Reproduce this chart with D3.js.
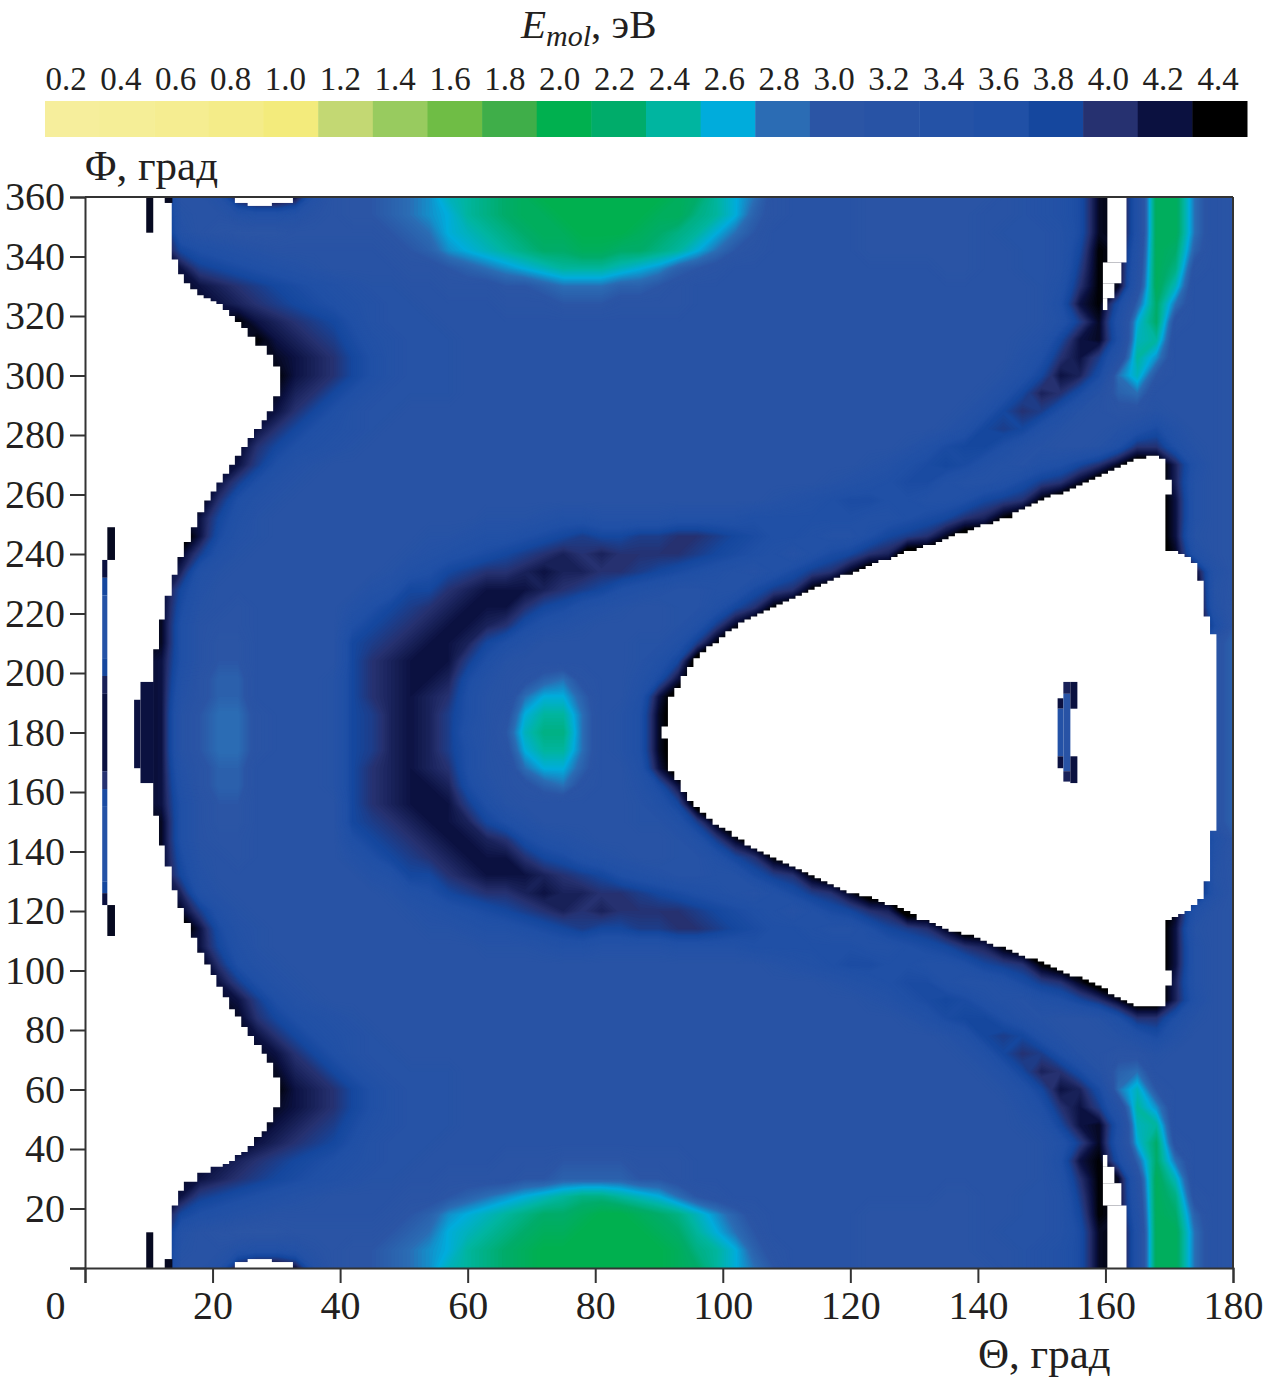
<!DOCTYPE html>
<html><head><meta charset="utf-8">
<script src="https://cdn.jsdelivr.net/npm/d3@7"></script>
<style>html,body{margin:0;padding:0;background:#fff}svg{display:block}text{font-family:"Liberation Serif",serif;fill:#231f20}</style>
</head><body><div id="c"></div>
<script>
const legendValues=[0.2,0.4,0.6,0.8,1.0,1.2,1.4,1.6,1.8,2.0,2.2,2.4,2.6,2.8,3.0,3.2,3.4,3.6,3.8,4.0,4.2,4.4];
const legendColors=["#f6ee9c","#f5ee97","#f5ed91","#f4ec89","#f3eb7c","#c3d873","#98cb5f","#6fbd45","#3fae49","#00b04f","#00ac6a","#00b5a0","#00acdc","#2b6cb4","#2b55a5","#2853a5","#2452a6","#2050a6","#15479e","#263170","#0b1140","#000000"];
const thetaTicks=[0,20,40,60,80,100,120,140,160,180];
const phiTicks=[0,20,40,60,80,100,120,140,160,180,200,220,240,260,280,300,320,340,360];
const thetaStep=3, phiStep=6;
// Emol per cell: A=1.8 ... Z=4.3 in 0.1 eV steps, #=4.4, %=4.6. Rows from Phi=360 to Phi=0, columns from Theta=0 to 180.
const energyRows=[
"ZZZZZ OOQY# #YQNM MLKJH GFEDC CCCCC CDEGI KNOOO ONNNN NNNOP QRTZ# RDDKO N",
"ZZZZZ POOQR RQONM MLKJI GFEDD CCCCC DDFGI LNOOO ONNNN NNOOP QRTZ# RDDKO N",
"ZZZZZ QONMM MNNNN NMLKI HGFED DCCCD EFGIK MOOOO ONNNN NNOPP PQTZ# RDDKO N",
"ZZZZZ USRQP OOOOO ONMLJ IHGFE EDDEE FGIKM NOOOO ONNNN NNOOP PQU#Z QDELO N",
"ZZZZZ YVUTS RQPOO OONNM LKJIH GGGHI JLMNO OOOOO OOOOO NNOOP PQV#Z PDFNO N",
"ZZZZZ ZYXWV UTSRQ PPOON NNMML KKKLL MNOOO OOOOO OOOOO OOOOO PRW#Z ODHOO N",
"ZZZZZ ZZYXW VUTSR QPPOO OONNN MMMNN NNOOO OOOOO OOOOO OOOOO PSY#T LEKOO N",
"ZZZZZ ZZZ#Y XWVUS QPPPO OOOOO OOOOO OOOOO OOOOO OOOOO OOOOO PRVZR IENOO N",
"ZZZZZ ZZZZ# YXWVT RQPPP OOOOO OOOOO OOOOO OOOOO OOOOO OOOOP QUYZS HGOOO N",
"ZZZZZ ZZZZZ ZYXWU SQPPP OOOOO OOOOO OOOOO OOOOO OOOOO OOOOQ SWYVP GJOOO N",
"ZZZZZ ZZZZZ #YXWU SQPPP OOOOO OOOOO OOOOO OOOOO OOOOO OOOPR UYXTK HMOOO N",
"ZZZZZ ZZZZZ ZXWUS QPPPP OOOOO OOOOO OOOOO OOOOO OOOOO OOPRU XWTPL KOOOO N",
"ZZZZZ ZZZZZ YWUSQ PPOOO OOOOO OOOOO OOOOO OOOOO OOOOO OPRUW VSPON NPOOO N",
"ZZZZZ ZZZZY WUSRQ POOOO OOOOO OOOOO OOOOO OOOOO OOOOO PRUVU RPOOP RTQOO N",
"ZZZZZ ZZZZW USRQP OOOOO OOOOO OOOOO OOOOO OOOOO OOOPR TUUSQ POOPS WWSPO N",
"ZZZZZ ZZZYV SQPOO OOOOO OOOOO OOOOO OOOOO OOOOO OPQST UTRQP RSUWZ %%XRO N",
"ZZZZZ ZZYVS QPOOO OOOOO OOOOO OOOOO OOOOO OOOOP QRSTT RQQRT VWZ%% %%XQO N",
"ZZZZZ Z#WSQ POOOO OOOOO OOOOO OOOOO OOOOO OPQRS TTSSR RSUVW #%%%% %%YQO N",
"ZZZZZ ZYURP OOOOO OOOOO OPPPQ RRQQQ QRRRR SSSSS SRRST UWX#% %%%%% %%YQO N",
"ZZZZZ %YTQP OOOOO OOOPP QRRST UVUUV VWWVU TSSRQ QSUVW Z%%%% %%%%% %%YPO N",
"ZZZZZ ZVRPO OOOOO OOPQR STUVW XWXWW WWVUT SRPRT UWX%% %%%%% %%%%% %%ZRO N",
"ZZZZZ XRPOO OOOOO OPRSU VWWXY XXWWV UTSRQ PRTVW Z%%%% %%%%% %%%%% %%%ZQ N",
"ZZZZZ UQOOO OOOOO QRUUW XYYYX WVUSR QPPQQ TVW#% %%%%% %%%%% %%%%% %%%%P N",
"ZZZZZ TPONO OOOOQ SUVWX YYYWU TRQPO OPPRU W#%%% %%%%% %%%%% %%%%% %%%%Q M",
"ZZZZZ SONNO OOOOS UVWXY YXWTR QPOOO OPRVZ %%%%% %%%%% %%%%% %%%%% %%%%T M",
"ZZZZZ SOMMO OOOOU VWXYY XUSQO OOOOP PRV#% %%%%% %%%%% %%%%% %%%%% %%%%N L",
"ZZZZY SOMMO OOOOU WXYYY VSPOO OOOOP RU%%% %%%%% %%%%% %%%%% %%%%% %%%%N L",
"ZZZZY RNLLO OOOPU WXYYX TQONL KNOOQ TY%%% %%%%% %%%%% %%%%% %%%%% %%%%N L",
"ZZZZY QNLLO OOOPU WXYXW SPOKI ILOOR Y%%%% %%%%% %%%%% %%%%% %%%%% %%%%N L",
"ZZZZY PMKKN OOOPU VXYXV SPNIG GKOPS Z%%%% %%%%% %%%%% %%%%% %%%%% %%%%N L",
"ZZZZY PMKKN OOOPU VXYXV RPMHF FKOPS Z%%%% %%%%% %%%%% %%%%% %%%%% %%%%N L",
"ZZZZY PMKKN OOOPU VXYXV SPNIG GKOPS Z%%%% %%%%% %%%%% %%%%% %%%%% %%%%N L",
"ZZZZY QNLLO OOOPU WXYXW SPOKI ILOOR Y%%%% %%%%% %%%%% %%%%% %%%%% %%%%N L",
"ZZZZY RNLLO OOOPU WXYYX TQONL KNOOQ TY%%% %%%%% %%%%% %%%%% %%%%% %%%%N L",
"ZZZZY SOMMO OOOOU WXYYY VSPOO OOOOP RU%%% %%%%% %%%%% %%%%% %%%%% %%%%N L",
"ZZZZZ SOMMO OOOOU VWXYY XUSQO OOOOP PRV#% %%%%% %%%%% %%%%% %%%%% %%%%N L",
"ZZZZZ SONNO OOOOS UVWXY YXWTR QPOOO OPRVZ %%%%% %%%%% %%%%% %%%%% %%%%R M",
"ZZZZZ TPONO OOOOQ SUVWX YYYWU TRQPO OPPRU W#%%% %%%%% %%%%% %%%%% %%%%Q M",
"ZZZZZ UQOOO OOOOO QRUUW XYYYX WVUSR QPPQQ TVW#% %%%%% %%%%% %%%%% %%%%P N",
"ZZZZZ XRPOO OOOOO OPRSU VWWXY XXWWV UTSRQ PRTVW Z%%%% %%%%% %%%%% %%%ZQ N",
"ZZZZZ ZVRPO OOOOO OOPQR STUVW XWXWW WWVUT SRPRT UWX%% %%%%% %%%%% %%ZRO N",
"ZZZZZ %YTQP OOOOO OOOPP QRRST UVUUV VWWVU TSSRQ QSUVW Z%%%% %%%%% %%YPO N",
"ZZZZZ ZYURP OOOOO OOOOO OPPPQ RRQQQ QRRRR SSSSS SRRST UWX#% %%%%% %%YQO N",
"ZZZZZ Z#WSQ POOOO OOOOO OOOOO OOOOO OOOOO OPQRS TTSSR RSUVW #%%%% %%YQO N",
"ZZZZZ ZZYVS QPOOO OOOOO OOOOO OOOOO OOOOO OOOOP QRSTT RQQRT VWZ%% %%XQO N",
"ZZZZZ ZZZYV SQPOO OOOOO OOOOO OOOOO OOOOO OOOOO OPQST UTRQP RSUWZ %%XRO N",
"ZZZZZ ZZZZW USRQP OOOOO OOOOO OOOOO OOOOO OOOOO OOOPR TUUSQ POOPS WWSPO N",
"ZZZZZ ZZZZY WUSRQ POOOO OOOOO OOOOO OOOOO OOOOO OOOOO PRUVU RPOOP RTQOO N",
"ZZZZZ ZZZZZ YWUSQ PPOOO OOOOO OOOOO OOOOO OOOOO OOOOO OPRUW VSPON NPOOO N",
"ZZZZZ ZZZZZ ZXWUS QPPPP OOOOO OOOOO OOOOO OOOOO OOOOO OOPRU XWTPL KOOOO N",
"ZZZZZ ZZZZZ #YXWU SQPPP OOOOO OOOOO OOOOO OOOOO OOOOO OOOPR UYXTK HMOOO N",
"ZZZZZ ZZZZZ ZYXWU SQPPP OOOOO OOOOO OOOOO OOOOO OOOOO OOOOQ SWYVP GJOOO N",
"ZZZZZ ZZZZ# YXWVT RQPPP OOOOO OOOOO OOOOO OOOOO OOOOO OOOOP QUYZS HGOOO N",
"ZZZZZ ZZZ#Y XWVUS QPPPO OOOOO OOOOO OOOOO OOOOO OOOOO OOOOO PRVZR IENOO N",
"ZZZZZ ZZYXW VUTSR QPPOO OONNN MMMMN NNOOO OOOOO OOOOO OOOOO PSY#T LEKOO N",
"ZZZZZ ZYXWV UTSRQ PPOON NNNMM LLLLM MNOOO OOOOO OOOOO OOOOO PRW#Z ODHOO N",
"ZZZZZ YVUTS RQPOO OONNM LKJIH GFFGH IKMNO OOOOO OOOOO NNOOP PQV#Z PDFNO N",
"ZZZZZ USRQP OOOOO ONMLJ IHGFE EDCCD EFHJL NOOOO ONNNN NNOOP PQU#Z QDELO N",
"ZZZZZ QONMM MNNNN NMLKI HGFED DCCCC DEGIK MOOOO ONNNN NNOPP PQTZ# RDDKO N",
"ZZZZZ POOQR RQONM MLKJI GFEDC CCCCC CDFGI LNOOO ONNNN NNOOP QRTZ# RDDKO N",
"ZZZZZ OOQY# #YQNM MLKJH GFEDC CCCCC CDEGI KMOOO ONNNN NNNOP QRTZ# RDDKO N"
];
// Left white region: at each Phi (top of step) the Theta where data begin.
const leftEdgePhi=[360,339,334,331,329,327,326,325,324,322,320,318,316,313,310,307,303,293,288,285,282,279,276,273,270,267,264,261,258,254,249,244,239,233,226,218,208,152,142,135,127,121,116,111,106,102,98.5,94.5,91,87,84.5,81,78,75,72,69,64,54,49,46,44,41,39,38,36,35,34,32,29,26,21,0];
const leftEdgeTheta=[13.6,14.6,15.5,16.5,17.6,18.6,19.7,20.6,21.6,22.6,23.5,24.5,25.5,26.7,28.5,29.5,30.6,29.5,28.5,27.7,26.5,25.5,24.5,23.5,22.6,21.6,20.6,19.7,18.7,17.6,16.6,15.5,14.5,13.6,12.5,11.6,10.7,11.6,12.5,13.6,14.5,15.5,16.6,17.6,18.7,19.7,20.6,21.6,22.6,23.5,24.5,25.5,26.5,27.7,28.5,29.5,30.6,29.5,28.5,27.7,26.5,25.5,24.5,23.5,22.6,21.6,19.7,17.6,15.5,14.6,13.6,13.6];
// Large white lobe outline
const lobeTheta=[90.3,91.5,91.5,92.8,93.7,94.8,96.4,99,101.6,104.7,107.8,111,114.7,118.3,122.6,126.6,130.9,135,139.8,144.5,147.6,150.8,154.4,158,161.4,163.3,167,168.5,169.6,169.6,170.4,170.4,169.6,169.6,171.3,172.4,173.5,174.5,175.4,176.3,177.4,177.4,176.3,176.3,175.4,174.5,173.5,172.4,170.4,169.6,169.6,170.4,170.4,169.6,169.6,168.5,165.7,163.8,161.8,160.2,158,156,151.7,149.7,139.8,135,131.3,127.7,124,120.4,116.8,114,111,107.8,104.7,102.7,100.6,98.4,96.7,95.6,94.5,93.6,92.5,91.5,91.5,90.3];
const lobePhi=[182,182,191,195,198.7,202,206.7,210,215,219,222,225,229,232,235.6,239,242,245,249,252,255.5,259,261.5,265,268,271,272.6,272.6,271.6,265,265,260,260,241,240.7,239.5,238.6,234,227,213,213,147,147,134,126,123,121,119,118,117,100,100,95,95,89,87.4,88,89,91,93.5,96,97.5,101,103,111,114,117,121,124,126,129,132,135,138,141,144.5,147,150,153,156,158,161,165,168,178,178];
// Small white cells: theta0, theta1, phi0, phi1
const whiteCells=[[160.3,163.3,338,360],[159.6,162.5,331,338],[159.6,161.4,326,331],[159.6,160.3,322,326],[160.3,163.3,0,21],[159.6,162.5,21,28.5],[159.6,161.4,28.5,34],[159.6,160.3,34,38],[23.5,32.6,358,360],[25.5,29.3,357,360],[23.5,32.6,0,2],[25.5,29.3,0,3]];
// Isolated data cells inside the white regions: theta0, theta1, phi0, phi1, Emol
const isletCells=[
[2.7,3.5,232,238,4.2],[2.7,3.5,226,232,3.8],[2.7,3.5,205,226,3.4],[2.7,3.5,199,205,3.8],[2.7,3.5,193,199,4.1],[2.7,3.5,167,193,4.2],[2.7,3.5,161,167,4.0],[2.7,3.5,155,161,3.7],[2.7,3.5,130,155,3.4],[2.7,3.5,126,130,3.8],[2.7,3.5,122,126,4.2],
[3.5,4.7,238,249,4.3],[3.5,4.7,111.6,122,4.3],
[8.7,10.8,163,197,4.2],[7.7,8.7,168,191,4.2],
[9.6,10.7,348,360,4.3],[9.6,10.7,0,12,4.3],[12.5,13.7,358,360,4.3],[12.5,13.7,0,3,4.3],
[152.5,153.4,188,191.5,4.2],[152.5,153.4,172,188,3.4],[152.5,153.4,168,172,4.2],
[153.4,154.5,193,197,4.1],[153.4,154.5,167,193,3.2],[153.4,154.5,163.5,167,4.1],
[154.5,155.6,188,197,4.2],[154.5,155.6,163,172,4.2]
];
const W=1266,H=1384;
const x=d3.scaleLinear().domain([0,180]).range([85,1233]);
const y=d3.scaleLinear().domain([0,360]).range([1268,197]);
const color=d3.scaleLinear().domain(legendValues).range(legendColors).clamp(true);
const svg=d3.select("#c").append("svg").attr("width",W).attr("height",H);
svg.append("defs").append("clipPath").attr("id","plot").append("rect").attr("x",x(0)).attr("y",y(360)).attr("width",x(180)-x(0)).attr("height",y(0)-y(360));

// Legend
const bandX=d3.scaleBand().domain(legendValues).range([45,1247]);
svg.append("g").selectAll("rect").data(legendValues).join("rect")
 .attr("x",d=>bandX(d)).attr("y",101).attr("width",bandX.bandwidth()+.5).attr("height",36).attr("fill",(d,i)=>legendColors[i]);
const labelX=d3.scalePoint().domain(legendValues).range([66,1218]);
svg.append("g").selectAll("text").data(legendValues).join("text")
 .attr("x",d=>labelX(d)).attr("y",90).attr("text-anchor","middle").attr("font-size",33).text(d=>d.toFixed(1));
const title=svg.append("text").attr("x",521).attr("y",38).attr("font-size",41);
title.append("tspan").attr("font-style","italic").text("E");
title.append("tspan").attr("font-style","italic").attr("font-size",30).attr("dy",8).text("mol");
title.append("tspan").attr("dy",-8).text(", эВ");

// Heat map
const cols=energyRows[0].replace(/ /g,"").length, rows=energyRows.length;
const decode=c=>c==="#"?4.4:c==="%"?4.6:1.8+0.1*(c.charCodeAt(0)-65);
const grid=energyRows.flatMap(r=>Array.from(r.replace(/ /g,""),decode));
const levels=d3.range(1.8,4.41,0.02);
const proj=d3.geoTransform({point(a,b){this.stream.point(x((a-.5)*thetaStep),y(360-(b-.5)*phiStep));}});
const geo=d3.geoPath(proj);
const plot=svg.append("g").attr("clip-path","url(#plot)");
plot.append("rect").attr("x",x(0)).attr("y",y(360)).attr("width",x(180)-x(0)).attr("height",y(0)-y(360)).attr("fill",color(1.8));
plot.append("g").selectAll("path").data(d3.contours().size([cols,rows]).thresholds(levels)(grid)).join("path")
 .attr("d",geo).attr("fill",d=>color(d.value));

// White regions outside the energy range
const leftArea=d3.area().x0(x(0)).x1(d=>x(leftEdgeTheta[d])).y(d=>y(leftEdgePhi[d])).curve(d3.curveStepBefore);
plot.append("path").attr("d",leftArea(d3.range(leftEdgePhi.length))).attr("fill","#fff");
// The lobe is painted on the plot's own 1-degree raster, which gives its stepped edge
const lobePoly=lobeTheta.map((t,i)=>[t,lobePhi[i]]);
const lobePath=d3.path();
for(let p=80;p<280;p++){
  let start=null;
  for(let t=89.4;t<179;t+=1){
    const inside=d3.polygonContains(lobePoly,[t+.5,p+.5]);
    if(inside&&start===null) start=t;
    if(!inside&&start!==null){lobePath.rect(x(start),y(p+1),x(t)-x(start),y(p)-y(p+1));start=null;}
  }
}
plot.append("path").attr("d",lobePath.toString()).attr("fill","#fff");
plot.append("g").selectAll("rect").data(whiteCells).join("rect")
 .attr("x",d=>x(d[0])).attr("width",d=>x(d[1])-x(d[0])).attr("y",d=>y(d[3])).attr("height",d=>y(d[2])-y(d[3])).attr("fill","#fff");
plot.append("g").selectAll("rect").data(isletCells).join("rect")
 .attr("x",d=>x(d[0])).attr("width",d=>x(d[1])-x(d[0])).attr("y",d=>y(d[3])).attr("height",d=>y(d[2])-y(d[3])).attr("fill",d=>color(d[4]));

// Axes
const axisColor="#333";
const gy=svg.append("g").attr("transform",`translate(${x(0)},0)`)
 .call(d3.axisLeft(y).tickValues(phiTicks).tickSize(15).tickPadding(5).tickFormat(d=>d===0?"":d));
const gx=svg.append("g").attr("transform",`translate(0,${y(0)})`)
 .call(d3.axisBottom(x).tickValues(thetaTicks).tickSize(15).tickPadding(8).tickFormat(d=>d));
[gx,gy].forEach(g=>{g.selectAll("path,line").attr("stroke",axisColor).attr("stroke-width",2);
 g.selectAll("text").attr("font-size",40).attr("font-family",'"Liberation Serif",serif').attr("fill","#231f20");
 g.attr("font-family",null);});
gx.selectAll(".tick text").filter(d=>d===0).attr("dx",-30);
svg.append("line").attr("x1",x(0)).attr("x2",x(180)).attr("y1",y(360)).attr("y2",y(360)).attr("stroke",axisColor).attr("stroke-width",2);
svg.append("line").attr("x1",x(180)).attr("x2",x(180)).attr("y1",y(360)).attr("y2",y(0)).attr("stroke",axisColor).attr("stroke-width",2);
svg.append("text").attr("x",85).attr("y",180).attr("font-size",43).text("Φ, град");
svg.append("text").attr("x",978).attr("y",1368).attr("font-size",43).text("Θ, град");
</script></body></html>
